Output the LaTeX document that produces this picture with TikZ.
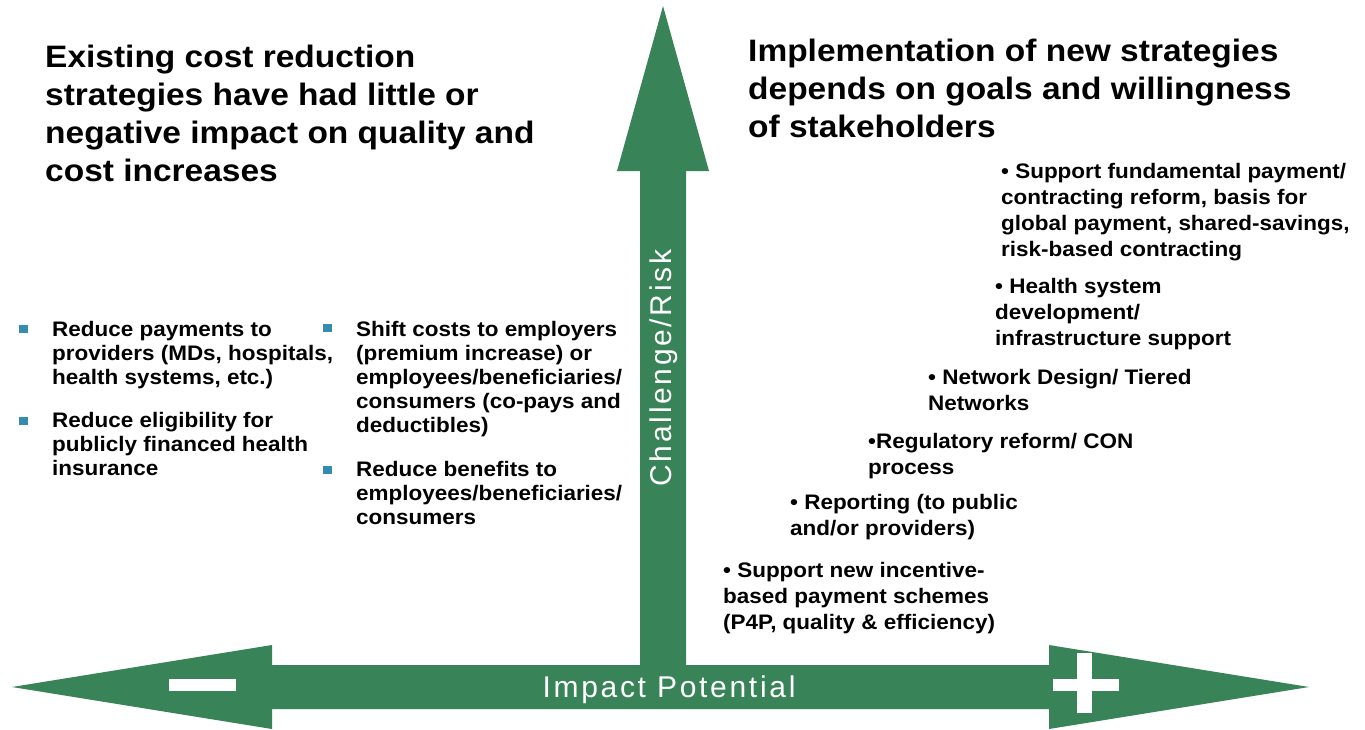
\documentclass[tikz,border=0pt]{standalone}
\usepackage{fontspec}
\setmainfont{Liberation Sans}
\newfontfamily\widefont[FakeStretch=1.08]{Liberation Sans}
\newfontfamily\bodywide[FakeStretch=1.07]{Liberation Sans}
\newfontfamily\spacedfont[LetterSpace=9]{Liberation Sans}
\definecolor{arrowgreen}{RGB}{56,132,88}
\definecolor{bulletteal}{RGB}{52,140,175}
\begin{document}
\begin{tikzpicture}[x=1pt,y=-1pt,
  title/.style={anchor=base west, inner sep=0pt, align=left, font={\widefont\bfseries\fontsize{31}{38}\selectfont}},
  body/.style={anchor=base west, inner sep=0pt, align=left, font={\bodywide\bfseries\fontsize{21}{24}\selectfont}},
  rbody/.style={anchor=base west, inner sep=0pt, align=left, font={\bodywide\bfseries\fontsize{21}{26}\selectfont}},
  axislabel/.style={inner sep=0pt, anchor=base, text=white, font={\spacedfont\fontsize{30}{36}\selectfont}},
  sq/.style={fill=bulletteal, minimum width=9pt, minimum height=8pt, inner sep=0pt}]
\useasboundingbox (0,0) rectangle (1365,729);
\fill[white] (0,0) rectangle (1365,729);
% arrows
\fill[arrowgreen] (12,687) -- (272,645) -- (272,665) -- (640,665) -- (640,171) -- (617,171)
  -- (663,6) -- (709,171) -- (686,171) -- (686,665) -- (1049,665) -- (1049,645)
  -- (1309,687) -- (1049,729) -- (1049,709) -- (272,709) -- (272,729) -- cycle;
% minus and plus
\fill[white] (169,679) rectangle (236,691);
\fill[white] (1053,679) rectangle (1119,691);
\fill[white] (1077,653) rectangle (1092,713);
% titles (anchored at the baseline of their last line)
\node[title] (lefttitle) at (45,181) {Existing cost reduction\\strategies have had little or\\negative impact on quality and\\cost increases};
\node[title] (righttitle) at (748,137) {Implementation of new strategies\\depends on goals and willingness\\of stakeholders};
% left bullets
\node[sq] (b1) at (23,329) {};
\node[body] (l1) at (52,384) {Reduce payments to\\providers (MDs, hospitals,\\health systems, etc.)};
\node[sq] (b2) at (23,421) {};
\node[body] (l2) at (52,475) {Reduce eligibility for\\publicly financed health\\insurance};
\node[sq] (b3) at (327,328) {};
\node[body] (m1) at (356,432) {Shift costs to employers\\(premium increase) or\\employees/beneficiaries/\\consumers (co-pays and\\deductibles)};
\node[sq] (b4) at (327,470) {};
\node[body] (m2) at (356,524) {Reduce benefits to\\employees/beneficiaries/\\consumers};
% right items
\node[rbody] (r1) at (1001,256) {• Support fundamental payment/\\contracting reform, basis for\\global payment, shared-savings,\\risk-based contracting};
\node[rbody] (r2) at (995,345) {• Health system\\development/\\infrastructure support};
\node[rbody] (r3) at (928,410) {• Network Design/ Tiered\\Networks};
\node[rbody] (r4) at (868,474) {•Regulatory reform/ CON\\process};
\node[rbody] (r5) at (790,535) {• Reporting (to public\\and/or providers)};
\node[rbody] (r6) at (723,629) {• Support new incentive-\\based payment schemes\\(P4P, quality \& efficiency)};
% axis labels
\node[axislabel] (impact) at (669,697) {Impact Potential};
\node[axislabel, rotate=90] (risk) at (671,368) {Challenge/Risk};
\end{tikzpicture}
\end{document}
